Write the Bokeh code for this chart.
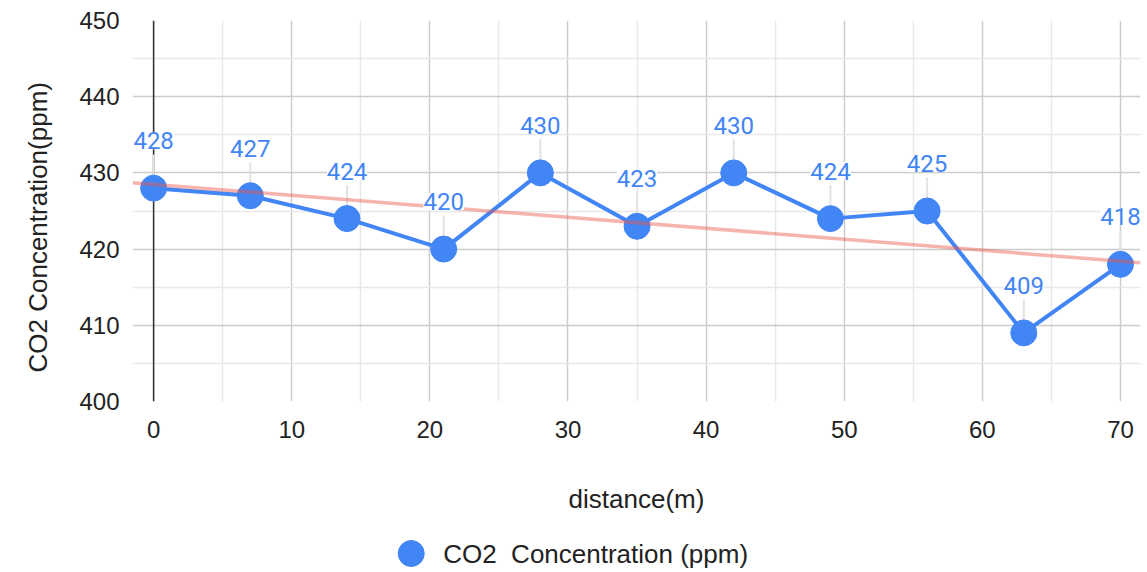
import numpy as np
from bokeh.plotting import figure
from bokeh.layouts import column
from bokeh.models import (ColumnDataSource, LabelSet, Span, Title,
                          FixedTicker, Range1d)
from bokeh.core.properties import value
from bokeh.embed import file_html
from bokeh.resources import INLINE

# CO2 readings along a transect
distance_m = [0, 7, 14, 21, 28, 35, 42, 49, 56, 63, 70]
co2_ppm = [428, 427, 424, 420, 430, 423, 430, 424, 425, 409, 418]
x_ticks = [0, 10, 20, 30, 40, 50, 60, 70]
y_ticks = [400, 410, 420, 430, 440, 450]
series_name = "CO2\u00a0 Concentration (ppm)"

BLUE = "#4285f4"
AXIS_FONT = "Liberation Sans"
TEXT = "#222222"

src = ColumnDataSource(dict(
    x=distance_m,
    y=co2_ppm,
    label=[str(v) for v in co2_ppm],
    lead_top=[v + 4.4 for v in co2_ppm],
))

x0, x1 = -1.53, 71.45
p = figure(width=1147, height=530, output_backend="svg", toolbar_location=None,
           x_range=Range1d(x0, x1), y_range=Range1d(400, 450),
           min_border_left=131, min_border_right=7, min_border_top=20,
           min_border_bottom=129)
p.outline_line_color = None
p.background_fill_color = "white"

# grid: major every 10, minor every 5
for g in (p.xgrid, p.ygrid):
    g.grid_line_color = "#cccccc"
    g.grid_line_width = 1.5
    g.minor_grid_line_color = "#e8e8e8"
    g.minor_grid_line_width = 1.5
p.xaxis.ticker = FixedTicker(ticks=x_ticks, minor_ticks=[5, 15, 25, 35, 45, 55, 65])
p.yaxis.ticker = FixedTicker(ticks=y_ticks, minor_ticks=[405, 415, 425, 435, 445])

for ax in (p.xaxis, p.yaxis):
    ax.axis_line_color = None
    ax.major_tick_line_color = None
    ax.minor_tick_line_color = None
    ax.major_label_text_font = AXIS_FONT
    ax.major_label_text_font_size = "24px"
    ax.major_label_text_color = TEXT
    ax.axis_label_text_font = AXIS_FONT
    ax.axis_label_text_font_size = "26px"
    ax.axis_label_text_font_style = "normal"
    ax.axis_label_text_color = TEXT

p.xaxis.axis_label = "distance(m)"
p.xaxis.major_label_standoff = 13
p.xaxis.axis_label_standoff = 43
p.yaxis.major_label_standoff = 7

# vertical axis title, set a little below the frame centre
p.add_layout(Title(text="CO2 Concentration(ppm)", align="left", offset=29,
                   vertical_align="top", standoff=44,
                   text_font=AXIS_FONT, text_font_size="26px",
                   text_font_style="normal", text_color=TEXT), "left")

# zero baseline on the x axis
p.add_layout(Span(location=0, dimension="height", line_color="#333333",
                  line_width=1.5, level="underlay"))

# leader lines from labels to points
p.segment(x0="x", y0="y", x1="x", y1="lead_top", source=src,
          line_color="#e3e3e3", line_width=2)

p.line("x", "y", source=src, line_color=BLUE, line_width=4)
p.scatter("x", "y", source=src, size=26, fill_color=BLUE, line_color=BLUE)

# linear trendline across the full plot width
slope, intercept = np.polyfit(distance_m, co2_ppm, 1)
p.line([x0, x1], [slope * x0 + intercept, slope * x1 + intercept],
       line_color="#e8594a", line_alpha=0.45, line_width=3.5)

labels = LabelSet(x="x", y="y", text="label", source=src, y_offset=39,
                  text_align="center", text_baseline="alphabetic",
                  text_font=value("Roboto"), text_font_size="24px",
                  text_color=BLUE,
                  background_fill_color="white", background_fill_alpha=1.0)
p.add_layout(labels)

# legend strip beneath the chart; its frame lines up with the chart frame,
# so the x range is set to read in page pixels
leg = figure(width=1147, height=42, output_backend="svg", toolbar_location=None,
             x_range=Range1d(131, 1140), y_range=Range1d(0, 42),
             min_border=0)
leg.axis.visible = False
leg.grid.visible = False
leg.outline_line_color = None
leg_src = ColumnDataSource(dict(mx=[410], my=[19], tx=[442], name=[series_name]))
leg.scatter("mx", "my", source=leg_src, size=26, fill_color=BLUE, line_color=BLUE)
leg.text("tx", "my", text="name", source=leg_src, text_align="left",
         text_baseline="middle", text_font=value(AXIS_FONT),
         text_font_size="26px", text_color=TEXT)

layout = column(p, leg, spacing=0)
open("out.html", "w").write(file_html(layout, INLINE))
